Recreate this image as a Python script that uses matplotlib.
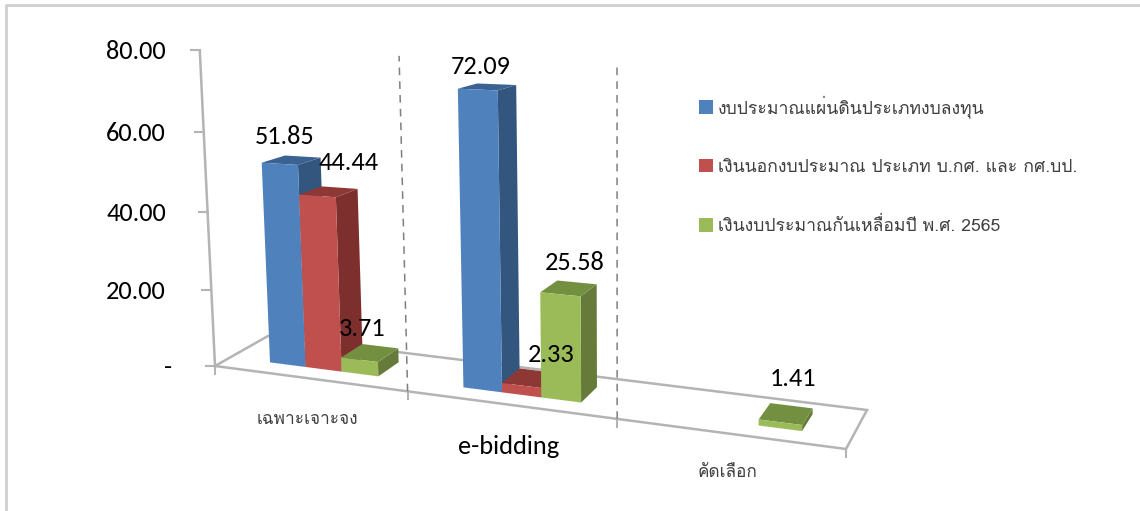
import matplotlib
matplotlib.use("Agg")
import matplotlib.pyplot as plt
from matplotlib import font_manager as fm
from matplotlib.patches import Polygon, Patch
import numpy as np

# ---- data ----
categories = ["เฉพาะเจาะจง", "e-bidding", "คัดเลือก"]
series_names = ["งบประมาณแผ่นดินประเภทงบลงทุน",
                "เงินนอกงบประมาณ ประเภท บ.กศ. และ กศ.บป.",
                "เงินงบประมาณกันเหลื่อมปี พ.ศ. 2565"]
blue_values = [51.85, 72.09, 0.0]
red_values = [44.44, 2.33, 0.0]
green_values = [3.71, 25.58, 1.41]
value_ticks = [0, 20, 40, 60, 80]
value_tick_labels = ["-", "20.00", "40.00", "60.00", "80.00"]

installed = {f.name for f in fm.fontManager.ttflist}
latin = 'Carlito' if 'Carlito' in installed else 'Lato'
BIG = 19.0 if latin == 'Carlito' else 16.8
plt.rcParams['font.family'] = [latin, 'Loma', 'Noto Sans', 'DejaVu Sans']
THAI = ['Loma', 'DejaVu Sans']

W, H = 1140, 511
fig = plt.figure(figsize=(W / 100, H / 100), dpi=100)
ax = fig.add_axes([0, 0, 1, 1])
ax.set_xlim(0, W)
ax.set_ylim(H, 0)
ax.axis("off")

# ---- oblique view of the 3-D chart box ----
src = np.array([[0, 0], [3, 0], [3, 1], [0, 1]], float)
dst = np.array([[215, 366], [846, 449], [867, 410], [268, 336]], float)
A = []
b = []
for (s, t), (X, Y) in zip(src, dst):
    A.append([s, t, 1, 0, 0, 0, -s * X, -t * X]); b.append(X)
    A.append([0, 0, 0, s, t, 1, -s * Y, -t * Y]); b.append(Y)
Hm = np.append(np.linalg.solve(np.array(A), np.array(b)), 1).reshape(3, 3)
VP = np.array([620.0, 8766.0])


def project(u, d, v=0.0):
    p = Hm @ np.array([u, d, 1.0])
    base = p[:2] / p[2]
    height = v * (3.75 + 0.0025 * v) * (1 + 0.062 * u) * (1 - 0.07 * d)
    up = (base - VP) / np.linalg.norm(base - VP)
    return base + up * height


GRAY = "#b4b4b4"
# frame
ax.plot([6, 6, W], [H, 5, 5], color="#cfcfcf", lw=2, zorder=1)

# walls / floor edges
ax.add_patch(Polygon([project(0, 0), project(3, 0), project(3, 1), project(0, 1)],
                     closed=True, fill=False, ec=GRAY, lw=1.8, zorder=1))
ax.plot(*zip(project(0, 0), project(0, 0, 80)), color=GRAY, lw=1.8, zorder=1)
for t, lab in zip(value_ticks, value_tick_labels):
    p = project(0, 0, t)
    ax.plot([p[0] - 9, p[0]], [p[1], p[1]], color=GRAY, lw=1.5, zorder=1)
    ax.text(172 if t == 0 else 166, p[1] + 1, lab, ha="right", va="center",
            fontsize=BIG, color="black")
for k in range(4):
    p = project(k, 0)
    ax.plot([p[0], p[0]], [p[1], p[1] + 8], color=GRAY, lw=1.5, zorder=1)
for k in (1, 2):
    ax.plot(*zip(project(k, 0), project(k, 0, 80)), color="#7f7f7f", lw=1.1,
            ls=(0, (5, 4)), zorder=1)

# bars
front_cols = ["#4F81BD", "#C0504D", "#9BBB59"]
side_cols = ["#33567F", "#7D2F2D", "#667B39"]
top_cols = ["#3A6293", "#8E3836", "#72903F"]
values = [blue_values, red_values, green_values]
MARGIN, BW, D0, D1 = 0.215, 0.19, 0.28, 0.72
z = 3
for c in range(3):
    for s in range(3):
        v = values[s][c]
        if v <= 0:
            continue
        u0 = c + MARGIN + s * BW
        u1 = u0 + BW
        ax.add_patch(Polygon([project(u1, D0), project(u1, D1), project(u1, D1, v), project(u1, D0, v)],
                             closed=True, fc=side_cols[s], ec="none", zorder=z))
        ax.add_patch(Polygon([project(u0, D0, v), project(u1, D0, v), project(u1, D1, v), project(u0, D1, v)],
                             closed=True, fc=top_cols[s], ec="none", zorder=z))
        ax.add_patch(Polygon([project(u0, D0), project(u1, D0), project(u1, D0, v), project(u0, D0, v)],
                             closed=True, fc=front_cols[s], ec="none", zorder=z))
        z += 1

# value labels
label_pos = {(0, 0): (285, 136), (1, 0): (349, 163), (2, 0): (362, 329),
             (0, 1): (481, 66), (1, 1): (551, 355), (2, 1): (575, 263),
             (2, 2): (793, 379)}
for (s, c), (x, y) in label_pos.items():
    ax.text(x, y, f"{values[s][c]:.2f}", ha="center", va="center",
            fontsize=BIG, color="black", zorder=50)

# category labels
ax.text(307, 420, categories[0], ha="center", va="center", fontsize=12.4, color="#404040", family=THAI)
ax.text(509, 446, categories[1], ha="center", va="center", fontsize=BIG, color="black")
ax.text(728, 473, categories[2], ha="center", va="center", fontsize=12.4, color="#404040", family=THAI)

# legend
handles = [Patch(fc=col, ec="none") for col in front_cols]
ax.legend(handles, series_names, loc="upper left", bbox_to_anchor=(699, 95),
          bbox_transform=ax.transData, frameon=False,
          prop=fm.FontProperties(family=THAI, size=12.7),
          labelcolor="#404040", handlelength=0.79, handleheight=0.79,
          handletextpad=0.3, labelspacing=2.33, borderpad=0, borderaxespad=0)

fig.savefig("out.png", dpi=100)
